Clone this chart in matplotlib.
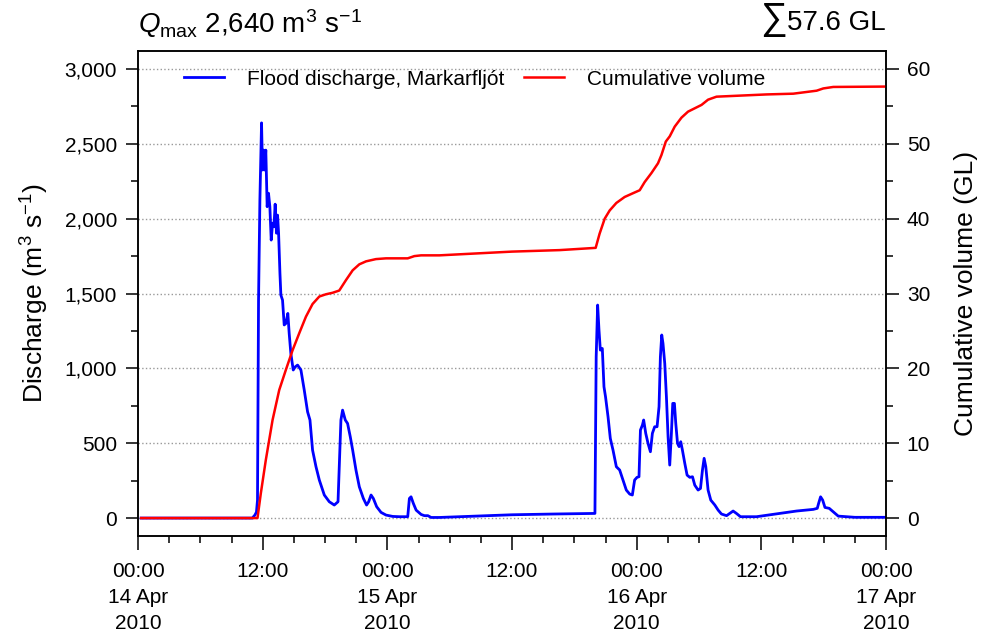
import pandas as pd
import matplotlib
matplotlib.use('Agg')
import matplotlib.pyplot as plt
import matplotlib.dates as mdates
from matplotlib.ticker import FuncFormatter, MultipleLocator

plt.rcParams['font.family'] = ['Liberation Sans', 'DejaVu Sans']
plt.rcParams['mathtext.fontset'] = 'custom'
plt.rcParams['mathtext.rm'] = 'Liberation Sans'
plt.rcParams['mathtext.it'] = 'Liberation Sans:italic'

# Datos (horas desde 14 Apr 2010 00:00)
horas_caudal = [0.3, 11.0, 11.25, 11.4, 11.5, 11.6, 11.73, 11.89, 11.98, 12.08, 12.18, 12.3, 12.43,
                12.56, 12.69, 12.82, 12.95, 13.08, 13.2, 13.33, 13.43, 13.53, 13.66, 13.75, 13.91,
                14.07, 14.23, 14.42, 14.55, 14.71, 14.94, 15.13, 15.36, 15.68, 16.0, 16.32, 16.55,
                16.8, 17.13, 17.45, 17.93, 18.41, 18.89, 19.25, 19.37, 19.53, 19.69, 19.95, 20.17,
                20.43, 20.66, 20.98, 21.3, 21.69, 22.0, 22.2, 22.43, 22.65, 22.97, 23.39, 23.87,
                24.51, 25.16, 25.96, 26.12, 26.28, 26.5, 26.77, 27.25, 27.57, 27.9, 28.21, 29.0,
                32.0, 36.0, 40.0, 43.98, 44.1, 44.24, 44.37, 44.5, 44.69, 44.85, 45.0, 45.24,
                45.46, 45.72, 46.04, 46.36, 46.68, 47.0, 47.33, 47.58, 47.8, 48.03, 48.22, 48.36,
                48.55, 48.67, 48.87, 49.09, 49.32, 49.51, 49.73, 49.96, 50.15, 50.28, 50.41,
                50.53, 50.7, 50.86, 51.02, 51.18, 51.34, 51.47, 51.63, 51.76, 51.93, 52.08,
                52.24, 52.4, 52.63, 52.85, 53.11, 53.37, 53.59, 53.91, 54.14, 54.33, 54.49,
                54.65, 54.87, 55.13, 55.52, 55.84, 56.16, 56.65, 56.96, 57.28, 57.6, 57.99,
                59.53, 61.78, 63.39, 65.0, 65.38, 65.51, 65.7, 65.9, 66.12, 66.53, 66.92, 67.4,
                69.0, 72.0]
caudal = [0, 0, 20, 40, 120, 1456, 2124, 2640, 2325, 2458, 2325, 2458, 2080,
          2170, 2080, 1857, 1970, 1946, 2097, 1903, 2024, 1903, 1635, 1490, 1456,
          1290, 1300, 1367, 1234, 1100, 989, 1010, 1022, 989, 855, 710, 655,
          454, 343, 254, 154, 109, 87, 109, 343, 655, 721, 655, 632,
          543, 454, 320, 209, 131, 87, 109, 154, 131, 76, 38, 20,
          11, 9, 9, 131, 142, 98, 53, 24, 16, 16, 4, 4,
          12, 22, 27, 31, 1077, 1423, 1256, 1122, 1133, 877, 810, 677,
          532, 454, 343, 321, 254, 187, 160, 154, 254, 272, 276, 588,
          621, 655, 566, 499, 443, 566, 610, 610, 744, 1077, 1223,
          1167, 1033, 810, 543, 354, 566, 766, 766, 633, 499, 477,
          510, 454, 365, 287, 272, 276, 220, 187, 198, 321, 399,
          343, 187, 120, 87, 53, 27, 16, 31, 47, 31, 9,
          9, 31, 47, 58, 65, 98, 142, 120, 71, 65, 42, 13,
          5, 5]

horas_volumen = [0.3, 11.5, 11.82, 12.3, 12.95, 13.59, 14.23, 14.87, 15.52, 16.16, 16.8, 17.45,
                 18.09, 18.73, 19.37, 20.02, 20.66, 21.3, 21.95, 22.9, 23.87, 25.96, 26.6,
                 27.25, 29.0, 36.0, 40.58, 44.05, 44.43, 44.92, 45.4, 46.04, 46.84, 47.64,
                 48.29, 48.77, 49.42, 50.05, 50.38, 50.8, 51.18, 51.66, 52.31, 52.94, 54.24,
                 54.87, 55.68, 57.28, 60.5, 63.07, 65.32, 65.96, 66.92, 72.0]
volumen = [0, 0, 3.3, 7.75, 13.1, 17.1, 19.8, 22.4, 24.7, 26.9, 28.6, 29.6,
           29.9, 30.1, 30.4, 31.8, 33.1, 33.9, 34.3, 34.6, 34.7, 34.7, 35.0,
           35.1, 35.1, 35.6, 35.8, 36.1, 38.0, 40.0, 41.1, 42.1, 42.9, 43.4,
           43.8, 44.9, 46.1, 47.4, 48.5, 50.3, 51.0, 52.3, 53.5, 54.3, 55.2,
           55.9, 56.3, 56.4, 56.6, 56.7, 57.1, 57.4, 57.6, 57.65]

inicio = pd.Timestamp('2010-04-14 00:00')
t_caudal = inicio + pd.to_timedelta(horas_caudal, unit='h')
t_volumen = inicio + pd.to_timedelta(horas_volumen, unit='h')

fig = plt.figure(figsize=(9.88, 6.33), dpi=100)
ax = fig.add_axes([0.1397, 0.1532, 0.7571, 0.7662])
ax2 = ax.twinx()

l1, = ax.plot(t_caudal, caudal, color='blue', lw=2.0, label='Flood discharge, Markarfljót')
l2, = ax2.plot(t_volumen, volumen, color='red', lw=1.8, label='Cumulative volume')

ax.set_xlim(inicio, inicio + pd.Timedelta(hours=72))
ax.set_ylim(-120, 3120)
ax2.set_ylim(-2.4, 62.4)

ax.yaxis.set_major_locator(MultipleLocator(500))
ax.yaxis.set_minor_locator(MultipleLocator(250))
ax.yaxis.set_major_formatter(FuncFormatter(lambda v, p: f'{v:,.0f}'))
ax2.yaxis.set_major_locator(MultipleLocator(10))
ax2.yaxis.set_minor_locator(MultipleLocator(5))

ax.xaxis.set_major_locator(mdates.HourLocator(byhour=[0, 12]))
ax.xaxis.set_minor_locator(mdates.HourLocator(interval=3))

def formato_fecha(x, pos):
    d = mdates.num2date(x)
    if d.hour == 0:
        return d.strftime('%H:%M\n%d %b\n%Y')
    return d.strftime('%H:%M')

ax.xaxis.set_major_formatter(FuncFormatter(formato_fecha))

ax.grid(axis='y', which='major', color='#999999', linestyle=':', lw=1)

for a in (ax, ax2):
    a.tick_params(which='major', length=9, width=1.1, labelsize=15, direction='out')
    a.tick_params(which='minor', length=5, width=1.1, direction='out')
    for s in a.spines.values():
        s.set_linewidth(1.1)
ax.tick_params(axis='x', which='major', length=10, pad=9)
ax.tick_params(axis='y', pad=6)
ax2.tick_params(axis='y', pad=6)

ax.set_ylabel('Discharge (m$^3$ s$^{-1}$)', fontsize=19, labelpad=10)
ax2.set_ylabel('Cumulative volume (GL)', fontsize=19, labelpad=17)

ax.legend(handles=[l1, l2], loc='upper center', ncol=2, frameon=False, fontsize=15,
          handlelength=1.9, handletextpad=1.1, columnspacing=0.95,
          bbox_to_anchor=(0.45, 1.0))

fig.text(0.1397, 0.963, '$Q_{\\mathrm{max}}$ 2,640 m$^3$ s$^{-1}$', fontsize=20, va='center', ha='left')
t_total = fig.text(0.8968, 0.963, '57.6 GL', fontsize=20, va='center', ha='right')

# interlineado de las etiquetas del eje x y símbolo de suma más grande
fig.canvas.draw()
for lab in ax.get_xticklabels():
    lab.set_linespacing(1.45)
caja = t_total.get_window_extent()
fig.text(caja.x0 - 1, caja.y0 + 7, '∑', fontsize=27, ha='right', va='baseline',
         transform=None)

fig.savefig('out.png', dpi=100)
